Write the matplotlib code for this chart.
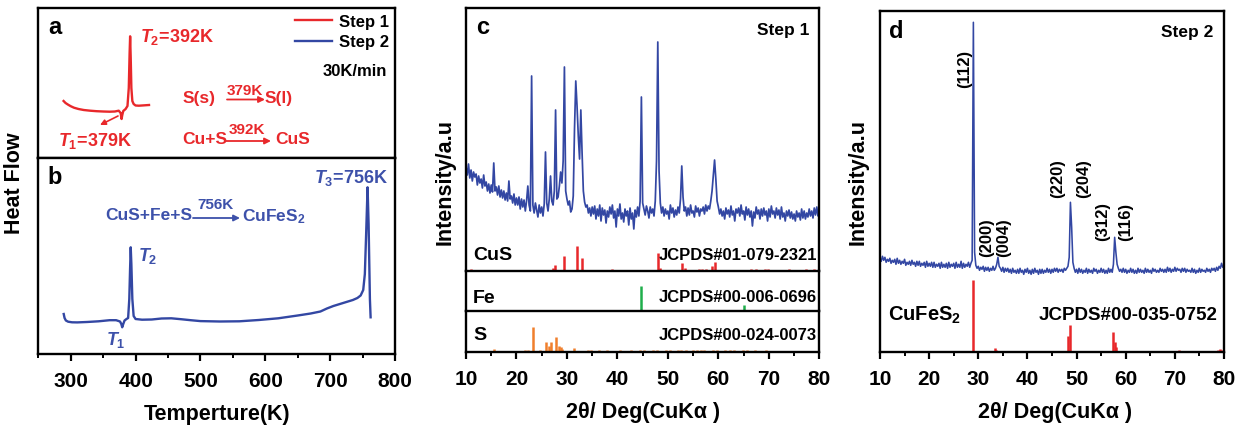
import numpy as np
import matplotlib
matplotlib.use('Agg')
import matplotlib.pyplot as plt
from matplotlib.ticker import MultipleLocator
from matplotlib.patches import FancyArrowPatch

W, H = 1242, 427
plt.rcParams['font.family'] = ['Liberation Sans', 'DejaVu Sans']
plt.rcParams['font.weight'] = 'bold'
plt.rcParams['mathtext.fontset'] = 'custom'
plt.rcParams['mathtext.rm'] = 'Liberation Sans:bold'
plt.rcParams['mathtext.it'] = 'Liberation Sans:bold:italic'
plt.rcParams['mathtext.bf'] = 'Liberation Sans:bold'

RED = '#e8282b'
BLUE = '#3347a3'
TBLUE = '#3d51aa'
GREEN = '#1fae4b'
ORANGE = '#f07f2c'

# ---------------- DSC data (panels a, b) ----------------
step1_T = [289, 292, 296, 300, 305, 312, 320, 330, 340, 350, 360, 368, 374, 377,
           378.4, 379.5, 381, 384.6, 387.5, 389.5, 390.8, 391.6, 392.5, 393.5,
           395, 397, 400, 405, 412, 420.7]
step1_hf = [57, 55, 53.3, 51.8, 50.3, 49, 48, 47.3, 46.8, 46.5, 46.3, 46.5, 47.3, 45,
            39, 43, 47, 49, 52, 70, 105, 121.7, 100, 70,
            57, 54, 52.5, 52.3, 52.6, 53]

step2_T = [289.2, 290.5, 292.5, 296, 302, 310, 325, 343, 360, 370, 376, 378, 379.4,
           381, 383, 386, 388.5, 390.3, 391.5, 392.5, 393.5, 395, 397, 400, 410,
           425, 440, 455, 470, 485, 500, 530, 560, 590, 620, 650, 670, 685, 695,
           705, 715, 725, 735, 742, 747, 751, 753.5, 755.5, 757.7, 759.3, 760.5,
           761.3, 762.4]
step2_hf = [40, 36, 33.5, 32.3, 31.7, 31.6, 32, 32.7, 33.8, 33.8, 32.5, 30, 26.7,
            30, 33.5, 35, 36, 55, 85, 106.7, 90, 55, 38, 35, 34.3,
            34.5, 35.5, 35.7, 34.8, 33.8, 32.9, 32.5, 32.7, 34, 35.7, 38.5, 40.5, 42.5, 45.5,
            48, 50, 52, 54, 56, 58.5, 64, 80, 120, 166.7, 130, 85,
            55, 36.7]

# ---------------- XRD data ----------------
scan_start, scan_stop, scan_step = 10.0, 80.0, 0.25

step1_xrd = [
    104, 96, 107, 93,   101, 90, 99, 94,    97, 86, 95, 88,     92, 83, 96, 85,
    89, 80, 87, 78,     86, 79, 108, 80,    84, 76, 85, 74,     81, 73, 80, 71,
    78, 70, 90, 72,     75, 68, 77, 66,     73, 66, 74, 62,     72, 64, 71, 60,
    70, 85, 66, 60,     195, 66, 58, 68,    61, 54, 66, 58,     64, 55, 67, 119,
    68, 60, 72, 95,     70, 66, 80, 161,    72, 74, 85, 99,     88, 110, 204, 80,
    72, 66, 70, 59,     62, 75, 142, 190,   165, 135, 112, 161,  118, 80, 69, 64,
    66, 58, 63, 55,     64, 57, 65, 52,     62, 55, 66, 50,     63, 56, 61, 48,
    60, 54, 64, 57,     66, 53, 60, 44,     62, 55, 67, 52,     58, 49, 62, 55,
    60, 46, 63, 52,     58, 42, 61, 54,     64, 55, 70, 174,    68, 62, 56, 65,
    60, 53, 64, 58,     62, 55, 70, 110,    229, 100, 68, 58,   64, 55, 62, 57,
    60, 52, 66, 58,     63, 54, 61, 56,     64, 58, 72, 105,    74, 60, 64, 55,
    63, 56, 66, 58,     60, 54, 65, 59,     63, 55, 62, 60,     64, 57, 66, 60,
    65, 62, 70, 80,     95, 111, 92, 70,    64, 57, 62, 55,     60, 52, 63, 57,
    61, 54, 65, 56,     60, 50, 62, 58,     63, 55, 66, 57,     60, 51, 64, 56,
    62, 54, 60, 45,     59, 53, 64, 57,     61, 52, 62, 55,     63, 56, 60, 50,
    62, 54, 65, 57,     60, 53, 63, 56,     61, 52, 64, 54,     58, 50, 60, 55,
    61, 53, 59, 52,     57, 50, 60, 54,     58, 51, 62, 53,     60, 52, 58, 54,
    62, 55, 60, 53,     63, 56, 64, 55,     58]

step2_xrd = [
    94, 91, 96, 92,     95, 90, 93, 91,     94, 89, 92, 90,     93, 88, 94, 89,
    92, 88, 91, 89,     93, 87, 90, 88,     91, 87, 92, 88,     90, 86, 91, 87,
    91, 86, 89, 87,     90, 85, 91, 86,     89, 86, 90, 85,     90, 85, 88, 86,
    89, 84, 90, 85,     88, 85, 89, 84,     90, 85, 88, 86,     89, 84, 90, 85,
    88, 85, 91, 84,     89, 85, 88, 86,     90, 85, 89, 92,     330, 100, 87, 84,
    86, 82, 85, 83,     86, 81, 85, 82,     85, 81, 84, 82,     86, 82, 84, 88,
    95, 86, 84, 81,     85, 80, 84, 81,     84, 80, 83, 79,     84, 80, 82, 79,
    83, 79, 84, 80,     82, 78, 83, 80,     84, 79, 82, 78,     83, 79, 84, 80,
    82, 78, 83, 79,     83, 79, 82, 80,     84, 80, 83, 79,     83, 80, 84, 81,
    84, 80, 83, 81,     83, 80, 84, 82,     84, 86, 95, 150,    125, 90, 84, 80,
    83, 79, 84, 80,     83, 79, 82, 80,     84, 79, 83, 80,     82, 79, 84, 81,
    83, 79, 82, 80,     84, 80, 83, 79,     82, 79, 84, 80,     83, 80, 88, 115,
    100, 88, 84, 81,    83, 80, 84, 80,     83, 79, 82, 80,     84, 80, 83, 79,
    82, 79, 84, 80,     83, 80, 82, 79,     84, 80, 83, 80,     82, 79, 84, 81,
    83, 80, 82, 80,     84, 81, 83, 80,     83, 80, 85, 81,     84, 80, 83, 81,
    85, 81, 84, 82,     83, 80, 84, 81,     84, 80, 83, 81,     82, 80, 84, 80,
    83, 79, 82, 80,     84, 80, 83, 81,     82, 80, 84, 81,     83, 80, 84, 82,
    84, 81, 85, 82,     86, 84, 89, 85,     86]

# reference patterns (stick positions / relative heights)
cus_pos = [11.0, 21.9, 27.2, 27.7, 29.4, 31.9, 33.0, 38.9, 42.4, 43.4, 48.0, 48.4,
           52.8, 53.3, 56.1, 56.8, 57.5, 58.7, 59.3, 63.6, 66.5, 67.4, 69.2, 69.8,
           73.9, 76.3, 77.3, 79.0]
cus_int = [2.5, 1.5, 3.5, 6, 15.5, 25.5, 13, 2.5, 1.5, 1.5, 18, 3,
           8, 3, 2, 2.5, 2.5, 5, 9, 1.5, 2, 2, 2.5, 2, 2.5, 1.5, 2, 2]

fe_pos = [44.7, 65.0]
fe_int = [25, 6]

s_pos = [11.6, 15.5, 18.6, 21.7, 22.2, 23.2, 24.6, 25.9, 26.5, 26.9, 27.9, 28.4,
         28.8, 29.1, 31.4, 34.2, 34.8, 35.6, 36.3, 37.0, 37.9, 39.3, 40.6, 42.0,
         42.7, 43.5, 44.4, 45.2, 46.0, 47.1, 47.8, 48.5, 49.6, 50.4, 51.3, 52.0,
         52.6, 53.5, 54.2, 55.0, 55.8, 56.5, 57.2, 58.0, 58.9, 59.7, 60.6, 61.4,
         62.3, 63.1, 64.0, 64.8, 65.6, 66.5, 67.3, 68.4, 69.4]
s_int = [1.5, 3.5, 1.5, 2.5, 2.5, 25, 2, 10, 6, 10.5, 15, 6.5,
         5, 3, 4.5, 2, 2.5, 1.5, 2.5, 1.5, 2, 1.5, 2, 1.5,
         2, 1.5, 2.5, 2, 1.5, 2.5, 2, 1.5, 2, 2.5, 1.5, 2,
         2.5, 2, 1.5, 2.5, 2, 2.5, 2, 1.5, 2.5, 2, 1.5, 2,
         2.5, 2, 1.5, 2.5, 2, 1.5, 2, 1.5, 2]

cufes2_pos = [18.4, 28.9, 33.3, 33.6, 38.4, 48.3, 48.66, 57.4, 57.8, 58.1, 60.4,
              70.8, 71.9, 78.8, 79.2, 79.6]
cufes2_int = [1.5, 72, 4, 2, 1.5, 16, 27, 20, 10, 5, 1.5, 2.5, 1.5, 2.5, 3.5, 2.5]

hkl_labels = ['(112)', '(200)', '(004)', '(220)', '(204)', '(312)', '(116)']

two_theta = np.arange(scan_start, scan_stop + scan_step / 2, scan_step)

# ---------------- figure ----------------
fig = plt.figure(figsize=(W / 100, H / 100), dpi=100)


def rect(x0, y0, x1, y1):
    return [x0 / W, 1 - y1 / H, (x1 - x0) / W, (y1 - y0) / H]


def ftext(x, y, s, **kw):
    kw.setdefault('va', 'center')
    return fig.text(x / W, 1 - y / H, s, **kw)


def farrow(x0, y0, x1, y1, color, lw=1.3, ms=9):
    fig.add_artist(FancyArrowPatch((x0 / W, 1 - y0 / H), (x1 / W, 1 - y1 / H),
                                   transform=fig.transFigure, arrowstyle='-|>',
                                   mutation_scale=ms, color=color, lw=lw,
                                   shrinkA=0, shrinkB=0))


ax_a = fig.add_axes(rect(38.3, 9.3, 395, 159))
ax_b = fig.add_axes(rect(38.3, 159, 395, 355))
ax_c1 = fig.add_axes(rect(466, 9.3, 819.3, 272))
ax_c2 = fig.add_axes(rect(466, 272, 819.3, 312))
ax_c3 = fig.add_axes(rect(466, 312, 819.3, 353.3))
ax_d = fig.add_axes(rect(880, 11.7, 1224, 353.3))

for ax in [ax_a, ax_b, ax_c1, ax_c2, ax_c3, ax_d]:
    ax.set_yticks([])
    for sp in ax.spines.values():
        sp.set_linewidth(1.7)
for ax in [ax_a, ax_c1, ax_c2]:
    ax.set_xticks([])
for ax in [ax_c1, ax_c2]:
    ax.spines['bottom'].set_linewidth(1.3)

# panel a / b
l1, = ax_a.plot(step1_T, step1_hf, color=RED, lw=1.7, label='Step 1')
l2, = ax_b.plot(step2_T, step2_hf, color=BLUE, lw=1.7, label='Step 2')
for ax in [ax_a, ax_b]:
    ax.set_xlim(250, 800)
ax_a.set_ylim(0, 149.7)
ax_b.set_ylim(0, 196)
ax_b.set_xticks([300, 400, 500, 600, 700, 800])
ax_b.xaxis.set_minor_locator(MultipleLocator(50))

leg = ax_a.legend(handles=[l1, l2], loc='upper right',
                  bbox_to_anchor=(389 / W, 1 - 15 / H), bbox_transform=fig.transFigure,
                  frameon=False, fontsize=12, handlelength=2.2, handletextpad=0.45,
                  labelspacing=0.32, borderpad=0, borderaxespad=0)

# panel c
ax_c1.plot(two_theta, step1_xrd, color=BLUE, lw=1.25)
ax_c1.vlines(cus_pos, 0, cus_int, color=RED, lw=1.8)
ax_c2.vlines(fe_pos, 0, fe_int, color=GREEN, lw=1.8)
ax_c3.vlines(s_pos, 0, s_int, color=ORANGE, lw=1.8)
for ax in [ax_c1, ax_c2, ax_c3]:
    ax.set_xlim(10, 80)
ax_c1.set_ylim(0, 262.7)
ax_c2.set_ylim(0, 40)
ax_c3.set_ylim(0, 41.3)

# panel d
ax_d.plot(two_theta, step2_xrd, color=BLUE, lw=1.15)
ax_d.vlines(cufes2_pos, 0, cufes2_int, color=RED, lw=1.8)
ax_d.set_xlim(10, 80)
ax_d.set_ylim(0, 341.6)

for ax in [ax_b, ax_c3, ax_d]:
    if ax is not ax_b:
        ax.xaxis.set_major_locator(MultipleLocator(10))
        ax.xaxis.set_minor_locator(MultipleLocator(5))
    ax.tick_params(axis='x', which='major', direction='out', length=5, width=1.6,
                   labelsize=15, pad=7)
    ax.tick_params(axis='x', which='minor', direction='out', length=3, width=1.4)

# ---------------- texts ----------------
# panel a
ftext(55, 27, 'a', fontsize=17, ha='center')
ftext(140, 37, r'$T_{\mathit{2}}$=392K', fontsize=13, color=RED, ha='left')
ftext(387, 72, '30K/min', fontsize=12, ha='right')
ftext(183, 98, 'S(s)', fontsize=12.5, color=RED, ha='left')
ftext(245, 91, '379K', fontsize=11, color=RED, ha='center')
farrow(227, 100.5, 265, 100.5, RED)
ftext(265, 98, 'S(l)', fontsize=12.5, color=RED, ha='left')
ftext(182, 140, 'Cu+S', fontsize=12.5, color=RED, ha='left')
ftext(247, 130, '392K', fontsize=11, color=RED, ha='center')
farrow(225, 142, 271, 142, RED)
ftext(275, 140, 'CuS', fontsize=12.5, color=RED, ha='left')
ftext(58, 141, r'$T_{\mathit{1}}$=379K', fontsize=13, color=RED, ha='left')
farrow(118, 117, 100, 126, RED, lw=1.2, ms=8)

# panel b
ftext(55, 178, 'b', fontsize=17, ha='center')
ftext(388, 178, r'$T_{\mathit{3}}$=756K', fontsize=13, color=TBLUE, ha='right')
ftext(105, 216, 'CuS+Fe+S', fontsize=12.5, color=TBLUE, ha='left')
ftext(216, 205, '756K', fontsize=11, color=TBLUE, ha='center')
farrow(193, 219, 240, 219, TBLUE)
ftext(242, 217, r'CuFeS$_2$', fontsize=12.5, color=TBLUE, ha='left')
ftext(138, 256, r'$T_{\mathit{2}}$', fontsize=13, color=TBLUE, ha='left')
ftext(106, 340, r'$T_{\mathit{1}}$', fontsize=13, color=TBLUE, ha='left')

ftext(15, 183, 'Heat Flow', fontsize=15.5, rotation=90, ha='center')
ftext(217, 415, 'Temperture(K)', fontsize=15.5, ha='center')

# panel c
ftext(483, 28, 'c', fontsize=17, ha='center')
ftext(809, 30, 'Step 1', fontsize=12.5, ha='right')
ftext(473, 256, 'CuS', fontsize=14, ha='left')
ftext(817, 255, 'JCPDS#01-079-2321', fontsize=12, ha='right')
ftext(473, 299, 'Fe', fontsize=14, ha='left')
ftext(817, 298, 'JCPDS#00-006-0696', fontsize=12, ha='right')
ftext(473, 336, 'S', fontsize=14, ha='left')
ftext(817, 336, 'JCPDS#00-024-0073', fontsize=12, ha='right')
ftext(445, 182, 'Intensity/a.u', fontsize=15.5, rotation=90, ha='center')
ftext(643, 413, '2θ/ Deg(CuKα )', fontsize=15.5, ha='center')

# panel d
ftext(896, 31, 'd', fontsize=17, ha='center')
ftext(1213, 32, 'Step 2', fontsize=12.5, ha='right')
hkl_xy = [(965, 69), (987, 238), (1003.5, 238), (1058, 179), (1083.5, 179),
          (1103, 222), (1126, 222)]
for lab, (x, y) in zip(hkl_labels, hkl_xy):
    ftext(x, y, lab, fontsize=12, rotation=90, ha='center')
ftext(888, 315, r'CuFeS$_2$', fontsize=14.5, ha='left')
ftext(1218, 316, 'JCPDS#00-035-0752', fontsize=13.5, ha='right')
ftext(858, 182, 'Intensity/a.u', fontsize=15.5, rotation=90, ha='center')
ftext(1055, 413, '2θ/ Deg(CuKα )', fontsize=15.5, ha='center')

fig.savefig('out.png', dpi=100)
